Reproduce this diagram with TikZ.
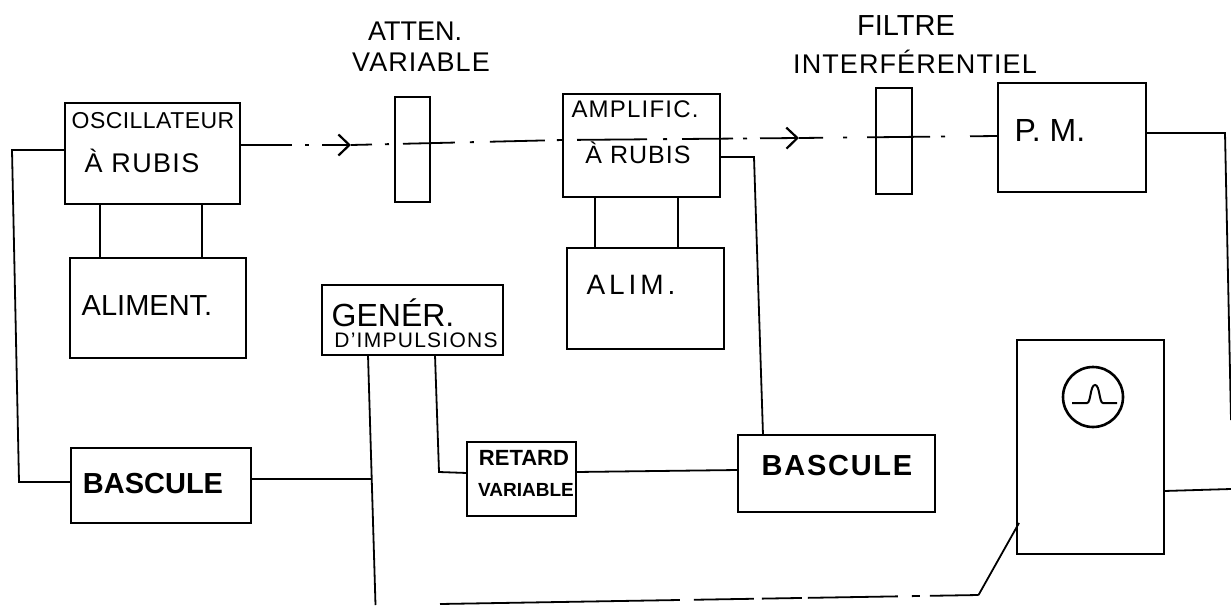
\documentclass[tikz,border=0pt]{standalone}
\usepackage{fontspec}
\setmainfont{Liberation Sans}
\usetikzlibrary{calc, arrows.meta}
\tikzset{
    wire/.style={line width=1.8pt},
    blockbox/.style 2 args={draw, line width=1.9pt, minimum width=#1, minimum height=#2, inner sep=0pt, outer sep=0pt},
    lettering/.style 2 args={inner sep=0pt, font=\fontsize{#1}{#1}\selectfont\addfontfeature{LetterSpace=#2}},
    heavylettering/.style 2 args={inner sep=0pt, font=\fontsize{#1}{#1}\selectfont\bfseries\addfontfeature{LetterSpace=#2}},
    beamtip/.style={-{Straight Barb[length=11pt, width=21pt, line width=2.2pt]}}
}

\begin{document}
\begin{tikzpicture}[x=1pt, y=-1pt]
    \useasboundingbox (0, 0) rectangle (1231, 605);

    \node[blockbox={175}{101}] (osc) at (152.5, 153.5) {};
    \node[blockbox={176}{100}] (aliment) at (158, 308) {};
    \node[blockbox={180}{75}] (bascA) at (161, 485.5) {};
    \node[blockbox={35}{105}] (atten) at (412.5, 149.5) {};
    \node[blockbox={157}{103}] (amp) at (641.5, 145.5) {};
    \node[blockbox={157}{101}] (alim) at (645.5, 298.5) {};
    \node[blockbox={36}{106}] (filt) at (894, 141) {};
    \node[blockbox={148}{109}] (pm) at (1072, 137.5) {};
    \node[blockbox={181}{70}] (gener) at (412.5, 320) {};
    \node[blockbox={109}{74}] (retard) at (521.5, 479) {};
    \node[blockbox={197}{77}] (bascB) at (836.5, 473.5) {};
    \node[blockbox={147}{214}] (scope) at (1090.5, 447) {};
    \node[draw, circle, line width=2.6pt, minimum size=60, inner sep=0pt] (scopeFace) at (1093, 397) {};

    \node[lettering={27}{0}] (attenTop) at (415, 31) {ATTEN.};
    \node[lettering={27}{4}] (attenBot) at (421, 62) {VARIABLE};
    \node[lettering={29}{0}] (filtTop) at (906, 26) {FILTRE};
    \node[lettering={27}{4}] (filtBot) at (915, 62) {INTERFÉRENTIEL};
    \node[lettering={23}{2}] (oscTop) at (153, 121) {OSCILLATEUR};
    \node[lettering={27}{5}] (oscBot) at (142, 161) {À RUBIS};
    \node[lettering={24}{5}] (ampTop) at (635, 109) {AMPLIFIC.};
    \node[lettering={25}{4}] (ampBot) at (638, 153) {À RUBIS};
    \node[lettering={32}{0}] (pmText) at (1050, 130) {P. M.};
    \node[lettering={29}{0}] (alimentText) at (147, 306) {ALIMENT.};
    \node[lettering={28}{14}] (alimText) at (631, 285) {ALIM.};
    \node[lettering={32}{0}] (generTop) at (393, 313) {GENÉR.};
    \node[lettering={21}{6}] (generBot) at (416, 340) {D'IMPULSIONS};
    \node[heavylettering={29}{0}] (bascAText) at (153, 484) {BASCULE};
    \node[heavylettering={22}{0}] (retardTop) at (524, 458) {RETARD};
    \node[heavylettering={19}{0}] (retardBot) at (526, 490) {VARIABLE};
    \node[heavylettering={29}{6}] (bascBText) at (837, 466) {BASCULE};

    \coordinate (leftTop) at (12, 150);
    \coordinate (leftBot) at (19, 482);
    \coordinate (beamA) at (351, 145);
    \coordinate (beamB) at (799, 138);
    \coordinate (ampTurn) at (754, 157);
    \coordinate (pulseJoin) at (371, 479);
    \coordinate (pulseEnd) at (375.5, 605);
    \coordinate (retardTurn) at (439, 472);
    \coordinate (bottomStart) at (440, 604);
    \coordinate (bottomTurn) at (978.5, 595);
    \coordinate (scopeIn) at (1019, 523);
    \coordinate (pmTurn) at (1225, 133);
    \coordinate (pmEnd) at (1231, 420);
    \coordinate (scopeOut) at (1231, 489);

    \draw[wire, beamtip, dash pattern=on 52pt off 13pt on 4pt off 13pt] ([yshift=8.5]osc.east) -- (beamA);
    \draw[wire, dash pattern=on 21pt off 13pt on 4pt off 14pt on 52pt off 15pt on 4pt off 16pt on 55pt off 12pt on 6pt] (beamA) -- ([yshift=5.5]amp.west);
    \draw[wire, beamtip, dash pattern=on 0pt off 14pt on 70pt off 16pt on 4pt off 15pt on 51pt off 10pt on 4pt off 13pt on 40pt] ([yshift=5.5]amp.west) -- (beamB);
    \draw[wire, dash pattern=on 24pt off 20pt on 4pt off 20pt on 63pt off 11pt on 4pt off 25pt on 28pt] (beamB) -- ([yshift=1.5]pm.west);

    \draw[wire] ([xshift=-52.5]osc.south) -- ([xshift=-58]aliment.north);
    \draw[wire] ([xshift=49.5]osc.south) -- ([xshift=44]aliment.north);
    \draw[wire] ([xshift=-46.5]amp.south) -- ([xshift=-50.5]alim.north);
    \draw[wire] ([xshift=36.5]amp.south) -- ([xshift=32.5]alim.north);

    \draw[wire] ([yshift=3.5]osc.west) -- (leftTop) -- (leftBot) -- ([yshift=3.5]bascA.west);
    \draw[wire] ([yshift=6.5]bascA.east) -- (pulseJoin);
    \draw[wire] ([xshift=-44.5]gener.south) -- (pulseEnd);
    \draw[wire] ([xshift=22.5]gener.south) -- (retardTurn) -- ([yshift=6]retard.west);
    \draw[wire] ([yshift=7]retard.east) -- ([yshift=3.5]bascB.west);
    \draw[wire] ([yshift=-11.5]amp.east) -- (ampTurn) -- ([xshift=-73.5]bascB.north);
    \draw[wire, dash pattern=on 240pt off 14pt on 60pt off 8pt on 40pt off 6pt on 90pt off 14pt on 8pt off 10pt] (bottomStart) -- (bottomTurn);
    \draw[wire] (bottomTurn) -- (scopeIn);
    \draw[wire] ([yshift=4.5]pm.east) -- (pmTurn) -- (pmEnd);
    \draw[wire] ([yshift=-44]scope.east) -- (scopeOut);

    \draw[line width=2pt] (1072, 403) -- (1087, 403)
        .. controls (1091, 403) and (1090, 385) .. (1095, 385)
        .. controls (1100, 385) and (1099, 403) .. (1103, 403) -- (1117, 403);
\end{tikzpicture}
\end{document}
